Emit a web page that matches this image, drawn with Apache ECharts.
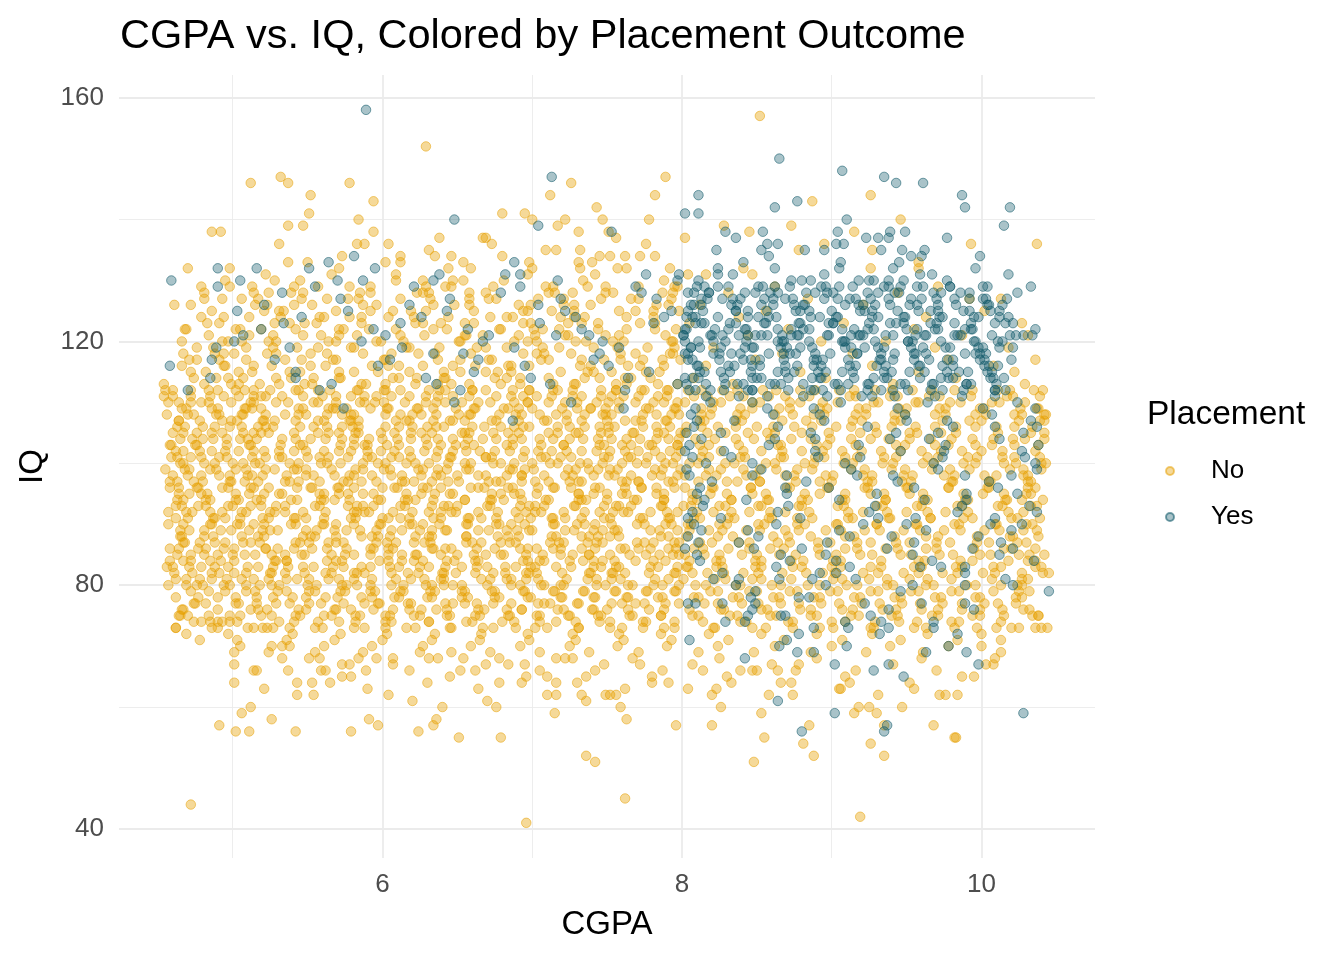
<!DOCTYPE html>
<html>
<head>
<meta charset="utf-8">
<script src="https://cdn.jsdelivr.net/npm/echarts@6/dist/echarts.min.js"></script>
<style>html,body{margin:0;padding:0;background:#fff}#chart{width:1344px;height:960px}</style>
</head>
<body>
<div id="chart"></div>
<script>
// Tick labels and grid lines
const xTickLabels = [6, 8, 10];
const yTickLabels = [40, 80, 120, 160];
const xGridMajor = [6, 8, 10];
const xGridMinor = [5, 7, 9];
const yGridMajor = [40, 80, 120, 160];
const yGridMinor = [60, 100, 140];
const seriesNames = ['No', 'Yes'];

// Each row: [IQ, CGPA, CGPA, ...]  -- Placement = No
const noUpper = [
[157, 8.52],
[152, 6.29],
[147, 5.32, 7.89],
[146, 5.12, 5.37, 5.78, 7.26],
[144, 5.52, 7.12, 7.82, 9.26],
[143, 5.94, 8.87],
[142, 7.43],
[141, 5.51, 6.80, 6.95],
[140, 5.84, 7.00, 7.22, 7.47, 7.78, 9.46],
[139, 5.37, 5.47, 7.17, 8.28, 8.73],
[138, 4.86, 4.92, 5.94, 7.31, 7.51, 8.45, 9.15],
[137, 6.38, 6.67, 6.69, 7.56, 8.02],
[136, 5.31, 5.83, 5.88, 6.04, 6.73, 7.76, 8.95, 9.93, 10.37],
[135, 6.31, 7.09, 7.16, 7.32, 8.78, 9.27],
[134, 5.73, 6.12, 6.35, 6.46, 6.80, 7.45, 7.52, 7.62, 7.72, 7.82],
[133, 5.37, 5.50, 6.02, 6.12, 6.54, 6.98, 7.31, 7.40, 9.58],
[132, 4.70, 4.98, 5.71, 6.44, 6.59, 7.00, 7.32, 7.57, 7.63, 7.92, 8.41, 9.26, 9.58],
[131, 5.22, 5.66, 6.09, 6.97, 7.42, 8.04, 8.16, 8.47],
[130, 4.95, 5.28, 5.45, 6.09, 6.27, 6.47, 6.54, 6.81, 7.34, 7.88],
[129, 4.98, 5.13, 5.57, 5.92, 6.29, 6.42, 6.74, 7.09, 7.37, 7.71, 7.95, 8.62, 9.71],
[128, 4.81, 5.24, 5.39, 5.85, 6.23, 6.31, 6.69, 7.15, 7.27, 7.54, 7.87, 8.31, 9.44],
[127, 4.93, 5.06, 5.63, 5.77, 6.12, 6.58, 6.76, 7.04, 7.46, 7.66, 7.93, 8.84, 9.92, 10.13],
[126, 4.72, 5.15, 5.41, 5.53, 5.96, 6.34, 6.48, 6.91, 7.21, 7.39, 7.83, 8.12, 9.21],
[125, 4.86, 5.21, 5.34, 5.69, 6.07, 6.19, 6.61, 6.97, 7.13, 7.58, 7.69, 7.98, 8.56, 10.02],
[124, 4.79, 4.94, 5.32, 5.61, 5.78, 6.04, 6.44, 6.72, 6.83, 7.28, 7.35, 7.81, 8.38, 9.63],
[123, 4.91, 5.28, 5.48, 5.86, 6.22, 6.39, 6.55, 6.99, 7.24, 7.44, 7.72, 8.05, 9.08, 10.27],
[122, 4.68, 5.02, 5.19, 5.74, 5.91, 6.09, 6.43, 6.79, 7.07, 7.18, 7.63, 7.96, 8.71, 9.55],
[121, 4.84, 5.11, 5.47, 5.59, 5.83, 6.28, 6.56, 6.67, 7.02, 7.22, 7.49, 7.89, 8.44, 9.87, 10.31],
[120, 4.66, 4.97, 5.06, 5.29, 5.64, 5.99, 6.14, 6.51, 6.88, 7.03, 7.36, 7.54, 7.94, 8.93, 9.36],
[119, 4.76, 5.09, 5.43, 5.57, 5.79, 6.16, 6.38, 6.63, 6.83, 7.18, 7.41, 7.77, 8.21, 9.69, 10.18],
[118, 4.88, 5.01, 5.23, 5.52, 5.87, 6.06, 6.24, 6.59, 6.94, 7.08, 7.26, 7.59, 7.92, 8.67, 9.14],
[117, 4.71, 4.91, 5.35, 5.46, 5.69, 6.01, 6.37, 6.52, 6.71, 7.06, 7.33, 7.48, 7.74, 7.99, 8.49, 9.78, 10.36],
[116, 4.66, 4.94, 5.14, 5.26, 5.62, 5.93, 6.11, 6.27, 6.62, 6.84, 6.98, 7.32, 7.64, 7.88, 8.16, 9.27, 10.08],
[115, 4.82, 5.04, 5.13, 5.45, 5.81, 5.97, 6.18, 6.52, 6.69, 6.86, 7.19, 7.37, 7.53, 7.85, 8.79, 9.58, 10.22],
[114, 4.74, 4.89, 5.07, 5.39, 5.54, 5.72, 6.07, 6.23, 6.41, 6.75, 6.92, 7.11, 7.45, 7.62, 7.79, 8.08, 8.96, 9.83],
[113, 4.54, 4.81, 4.99, 5.18, 5.31, 5.53, 5.89, 6.02, 6.22, 6.46, 6.58, 6.92, 7.14, 7.28, 7.56, 7.63, 7.97, 8.34, 9.41, 10.29],
[121, 5.27,5.71,6.12,6.55,6.91,7.24,7.58],
[116, 4.95,5.52,6.04,6.47,6.86,7.39,7.72],
[125, 5.31,5.92,6.29,6.94,7.28,7.81],
[119, 4.87,5.27,5.81,6.18,6.69,7.07,7.57,7.95],
[113, 5.04,5.48,5.86,6.37,6.79,7.29,7.84],
[128, 5.14,5.47,5.92,6.27,6.58,7.11,7.49,7.94],
[117, 4.76,5.09,5.67,6.02,6.73,7.11,7.59,7.87],
[123, 4.83,5.38,5.56,6.27,6.61,6.94,7.33,7.82],
[114, 4.97,5.29,5.71,6.11,6.42,6.83,7.35,7.66],
[127, 4.81,5.17,5.46,5.84,6.32,6.71,7.21,7.71],
[120, 4.93,5.24,5.69,5.96,6.52,6.97,7.29,7.61,7.93],
[115, 4.72,5.38,5.71,6.41,6.77,7.41,7.76],
[124, 5.11,5.58,5.86,6.21,6.87,7.19,7.63],
[129, 4.79,5.41,5.78,6.46,7.14,7.49,7.97],
[118, 4.67,4.94,5.29,5.63,6.35,7.03,7.69,7.94],
[126, 4.61,5.23,5.87,6.58,6.99,7.28,7.91],
[122, 4.69,5.05,5.42,5.71,6.34,6.78,7.01,7.44,7.82]
];

const noCore = [
[97, 4.58,4.74,4.99,5.08,5.38,5.44,5.77,5.86,6.13,6.21,6.44,6.71,6.79,7.02,7.25,7.31,7.63,7.71,7.94,8.11,8.37,8.52,8.92,9.24,9.47,9.81,10.05,10.33],
[84, 4.67,4.85,5.01,5.29,5.36,5.63,5.69,5.98,6.21,6.27,6.48,6.62,6.97,7.08,7.34,7.41,7.55,7.89,8.05,8.26,8.53,8.81,9.06,9.33,9.62,9.94,10.18,10.36],
[105, 4.60,4.76,4.93,5.19,5.24,5.57,5.71,5.82,6.08,6.33,6.53,6.58,6.91,7.17,7.29,7.46,7.68,7.84,7.99,8.17,8.44,8.62,8.98,9.19,9.52,9.73,10.11,10.42],
[91, 4.62,4.88,4.95,5.24,5.41,5.49,5.82,6.04,6.12,6.39,6.58,6.66,6.99,7.13,7.22,7.52,7.74,7.92,8.08,8.31,8.58,8.77,9.11,9.38,9.66,9.88,10.24],
[110, 4.57,4.72,4.84,5.12,5.29,5.54,5.69,5.88,6.01,6.29,6.36,6.64,6.88,6.97,7.22,7.43,7.51,7.81,7.97,8.21,8.47,8.72,8.94,9.28,9.56,9.79,10.07,10.29],
[88, 4.65,4.81,5.06,5.17,5.47,5.52,5.86,5.93,6.22,6.31,6.56,6.77,6.84,7.16,7.33,7.38,7.58,7.91,8.03,8.34,8.61,8.86,9.15,9.42,9.71,9.97,10.21,10.38],
[101, 4.59,4.79,4.91,5.13,5.31,5.58,5.64,5.93,6.06,6.19,6.45,6.69,6.73,7.09,7.19,7.48,7.66,7.77,7.96,8.13,8.39,8.66,8.89,9.09,9.35,9.64,9.91,10.14,10.39],
[82, 4.61,4.86,5.01,5.26,5.35,5.62,5.81,5.88,6.17,6.41,6.49,6.74,6.96,7.03,7.39,7.54,7.62,7.95,8.07,8.28,8.51,8.83,9.02,9.31,9.58,9.84,10.09,10.45],
[108, 4.56,4.74,4.91,5.07,5.35,5.49,5.73,5.81,6.12,6.26,6.51,6.58,6.89,7.05,7.23,7.47,7.53,7.83,7.98,8.19,8.42,8.74,8.95,9.23,9.49,9.76,10.03,10.27,10.43],
[94, 4.63,4.82,5.04,5.16,5.39,5.59,5.68,5.97,6.15,6.22,6.55,6.72,6.81,7.11,7.31,7.36,7.70,7.88,8.10,8.33,8.57,8.80,9.07,9.36,9.61,9.89,10.16,10.41],
[86, 4.58,4.77,4.94,5.22,5.30,5.53,5.76,5.92,6.07,6.34,6.46,6.63,6.92,7.03,7.19,7.42,7.59,7.79,7.96,8.14,8.45,8.68,8.91,9.17,9.44,9.70,9.95,10.20],
[112, 4.60,4.84,5.02,5.14,5.44,5.57,5.83,6.01,6.12,6.38,6.60,6.69,6.98,7.14,7.27,7.56,7.73,7.90,8.04,8.27,8.54,8.79,9.05,9.29,9.54,9.82,10.11,10.35],
[99, 4.55,4.71,4.89,5.09,5.28,5.41,5.66,5.87,6.05,6.24,6.43,6.56,6.85,7.01,7.24,7.44,7.52,7.82,7.99,8.18,8.41,8.63,8.87,9.13,9.40,9.67,9.92,10.19,10.40],
[80, 4.57,4.80,4.98,5.18,5.26,5.56,5.76,5.83,6.14,6.33,6.41,6.70,6.92,7.08,7.19,7.49,7.67,7.87,8.09,8.36,8.60,8.84,9.10,9.37,9.63,9.90,10.13,10.27],
[103, 4.59,4.75,4.96,5.11,5.32,5.45,5.72,5.90,6.03,6.30,6.49,6.61,6.87,7.06,7.21,7.45,7.60,7.80,7.97,8.12,8.38,8.64,8.90,9.16,9.43,9.69,9.96,10.22,10.38],
[90, 4.57,4.86,5.05,5.14,5.42,5.61,5.69,5.99,6.20,6.27,6.57,6.78,6.86,7.15,7.35,7.42,7.75,7.93,8.06,8.30,8.55,8.82,9.04,9.30,9.57,9.85,10.10,10.34],
[107, 4.64,4.78,4.99,5.20,5.28,5.57,5.78,5.84,6.16,6.34,6.45,6.73,6.91,7.10,7.23,7.50,7.69,7.89,8.15,8.40,8.67,8.93,9.20,9.46,9.74,10.00,10.25,10.42],
[85, 4.63,4.81,5.00,5.15,5.35,5.48,5.75,5.92,6.13,6.22,6.50,6.69,6.79,7.07,7.27,7.38,7.65,7.85,7.98,8.02,8.25,8.50,8.76,9.03,9.27,9.53,9.81,10.06,10.32],
[96, 4.58,4.76,4.93,5.12,5.24,5.52,5.70,5.81,6.08,6.27,6.39,6.64,6.84,7.04,7.14,7.42,7.62,7.73,7.95,8.20,8.46,8.70,8.97,9.22,9.50,9.78,10.04,10.36],
[111, 4.60,4.85,5.04,5.22,5.33,5.60,5.79,5.88,6.18,6.37,6.47,6.76,6.94,7.03,7.33,7.53,7.61,7.90,8.08,8.32,8.58,8.85,9.12,9.39,9.65,9.93,10.17,10.39],
[83, 4.60,4.79,4.97,5.17,5.27,5.54,5.74,5.86,6.11,6.31,6.42,6.70,6.89,6.99,7.26,7.46,7.56,7.84,8.04,8.23,8.49,8.74,9.00,9.26,9.55,9.83,10.08,10.40],
[100, 4.67,4.88,5.07,5.18,5.44,5.63,5.72,6.02,6.22,6.31,6.59,6.79,6.88,7.17,7.37,7.47,7.76,7.94,8.11,8.35,8.62,8.88,9.14,9.41,9.68,9.96,10.23,10.43],
[93, 4.66,4.82,5.00,5.19,5.29,5.58,5.77,5.87,6.15,6.33,6.44,6.72,6.92,7.02,7.29,7.48,7.58,7.87,8.06,8.29,8.53,8.80,9.08,9.34,9.60,9.87,10.14,10.33],
[109, 4.69,4.90,5.09,5.19,5.47,5.67,5.76,6.04,6.24,6.34,6.62,6.81,6.91,7.20,7.39,7.49,7.78,7.96,8.13,8.39,8.65,8.92,9.18,9.45,9.72,9.99,10.26,10.38],
[81, 4.62,4.78,4.96,5.14,5.24,5.51,5.71,5.81,6.09,6.28,6.39,6.66,6.86,6.96,7.23,7.43,7.53,7.82,8.01,8.22,8.47,8.73,9.01,9.25,9.52,9.80,10.07,10.31],
[104, 4.65,4.87,5.05,5.16,5.42,5.62,5.73,6.00,6.19,6.29,6.57,6.76,6.87,7.14,7.34,7.44,7.72,7.91,8.09,8.36,8.59,8.86,9.13,9.38,9.66,9.94,10.21,10.42],
[89, 4.65,4.81,4.99,5.20,5.30,5.56,5.76,5.85,6.13,6.33,6.43,6.71,6.90,7.00,7.28,7.47,7.57,7.85,8.05,8.27,8.52,8.78,9.06,9.32,9.59,9.86,10.12,10.37],
[98, 4.70,4.91,5.10,5.20,5.49,5.68,5.78,6.06,6.26,6.36,6.64,6.83,6.93,7.22,7.41,7.51,7.80,7.97,8.16,8.43,8.69,8.96,9.21,9.48,9.75,10.02,10.28],
[106, 4.63,4.80,4.98,5.17,5.27,5.54,5.73,5.84,6.11,6.30,6.41,6.68,6.88,6.98,7.25,7.45,7.55,7.83,8.03,8.24,8.50,8.75,9.03,9.29,9.56,9.83,10.10,10.34],
[87, 4.68,4.88,5.07,5.18,5.45,5.64,5.74,6.03,6.21,6.32,6.60,6.79,6.89,7.18,7.37,7.47,7.75,7.95,8.12,8.38,8.64,8.91,9.17,9.43,9.70,9.97,10.24],
[95, 4.64,4.83,5.02,5.21,5.31,5.58,5.77,5.87,6.16,6.35,6.45,6.73,6.92,7.03,7.31,7.50,7.60,7.88,8.07,8.30,8.56,8.82,9.09,9.35,9.61,9.88,10.15,10.30],
[102, 4.62,4.86,5.04,5.14,5.41,5.61,5.71,5.99,6.18,6.28,6.56,6.75,6.85,7.13,7.33,7.43,7.71,7.92,8.14,8.41,8.67,8.94,9.20,9.46,9.73,10.00,10.36],
[92, 4.69,4.85,5.06,5.25,5.35,5.62,5.81,5.91,6.20,6.39,6.49,6.77,6.96,7.06,7.35,7.54,7.64,7.90,8.10,8.33,8.59,8.85,9.11,9.37,9.64,9.91,10.18],
[76, 4.66,4.90,5.12,5.23,5.49,5.68,5.79,6.07,6.26,6.36,6.64,6.83,6.93,7.21,7.40,7.50,7.78,8.05,8.26,8.53,8.79,9.07,9.34,9.60,9.87,10.14,10.32],
[79, 4.72,4.95,5.15,5.36,5.55,5.75,5.95,6.14,6.35,6.55,6.75,6.95,7.15,7.34,7.56,7.77,7.95,8.19,8.45,8.72,8.99,9.26,9.53,9.80,10.08,10.25,10.32],
[75, 4.64,4.70,4.98,5.19,5.42,5.61,5.82,6.02,6.21,6.43,6.62,6.84,7.03,7.24,7.44,7.65,7.86,8.11,8.37,8.63,8.90,9.18,9.44,9.71,9.99,10.15,10.34,10.38],
[78, 4.77,5.02,5.27,5.49,5.70,5.93,6.11,6.33,6.57,6.78,6.99,7.20,7.41,7.63,7.84,8.08,8.34,8.61,8.88,9.15,9.42,9.69,9.96,10.23],
[77, 4.75,5.04,5.29,5.51,5.74,5.97,6.19,6.42,6.63,6.86,7.08,7.30,7.53,7.75,7.98,8.24,8.51,8.78,9.05,9.32,9.59,9.87,10.11],
[74, 4.79,4.85,4.90,4.93,5.03,5.31,5.57,5.82,6.06,6.31,6.56,6.80,7.05,7.29,7.52,7.76,8.14,8.43,8.71,9.00,9.29,9.57,9.85,10.13],
[73, 4.62,4.86,5.10,5.20,5.23,5.27,5.55,5.88,6.16,6.46,6.74,7.02,7.31,7.60,7.88,8.22,8.56,8.92,9.26,9.63,9.97,10.20,10.25,10.40,10.44],
[72, 4.69,4.97,5.40,5.72,6.03,6.35,6.66,6.97,7.27,7.58,7.86,8.18,8.53,8.90,9.27,9.64,10.00],
[71, 4.78,5.03,5.36,5.68,6.00,6.33,6.65,6.98,7.29,7.61,7.93,8.31,8.68,9.07,9.46,9.84,10.13],
[70, 5.05,5.26,5.33,5.38,5.61,5.93,6.27,6.59,6.92,7.25,7.57,7.90,8.24,8.62,9.00,9.39,9.78,10.00],
[69, 5.01,5.24,5.55,5.87,6.25,6.46,6.72,7.05,7.38,7.71,8.11,8.48,8.86,9.23,9.61,10.13]
];

const noCoreExtra = [
[88, 4.66,4.87,5.21,5.55,5.69,5.97,6.05,6.33,6.56,6.91,7.13,7.44,7.52,7.86,8.24,8.71,9.09,9.63,10.19],
[103, 4.58,4.76,5.12,5.47,5.81,5.88,6.11,6.39,6.55,6.83,7.21,7.48,7.66,7.78,7.97,8.18,8.66,8.97,9.49,9.78,10.07],
[81, 4.69,4.86,5.06,5.36,5.43,5.64,5.93,6.19,6.41,6.72,6.83,7.04,7.37,7.59,7.91,8.29,8.53,9.07,9.37,9.64,10.27],
[95, 4.71,4.79,5.11,5.33,5.61,5.71,5.94,6.26,6.47,6.79,6.88,7.31,7.41,7.63,7.83,8.19,8.47,8.92,9.26,9.52,10.01,10.33],
[107, 4.64,4.93,5.03,5.21,5.42,5.61,5.79,6.09,6.18,6.47,6.55,6.76,7.08,7.33,7.62,7.73,7.90,8.12,8.36,8.83,9.14,9.42,9.92,10.39],
[84, 4.58,4.72,4.92,5.28,5.36,5.73,6.04,6.13,6.43,6.64,6.94,7.05,7.25,7.47,7.69,7.81,8.23,8.49,8.73,9.01,9.58,9.86,10.31],
[99, 4.68,4.85,5.02,5.22,5.43,5.49,5.82,6.01,6.27,6.37,6.58,6.87,6.95,7.29,7.38,7.57,7.87,8.26,8.52,8.77,9.22,9.49,9.79,10.28],
[111, 4.54,4.72,4.94,5.14,5.19,5.47,5.69,5.96,6.06,6.29,6.58,6.86,7.13,7.27,7.46,7.71,7.84,8.17,8.41,8.69,9.16,9.44,9.72,10.21],
[86, 4.64,4.82,5.01,5.22,5.41,5.63,5.94,6.04,6.33,6.42,6.75,6.97,7.14,7.33,7.62,7.71,7.91,8.08,8.31,8.59,9.09,9.36,9.63,10.15,10.36],
[92, 4.57,4.73,4.93,5.09,5.28,5.47,5.83,5.88,6.07,6.31,6.46,6.64,6.89,7.02,7.21,7.45,7.61,7.79,7.97,8.21,8.45,8.69,9.21,9.50,9.76,10.28],
[105, 4.67,4.86,5.07,5.14,5.41,5.64,5.84,5.99,6.19,6.26,6.55,6.74,6.84,7.11,7.31,7.51,7.67,7.88,8.02,8.29,8.57,8.80,9.30,9.57,9.83,10.33],
[80, 4.69,4.76,4.94,5.09,5.31,5.50,5.73,5.92,6.06,6.29,6.47,6.53,6.86,7.06,7.21,7.43,7.64,7.81,7.98,8.16,8.39,8.66,8.92,9.17,9.41,9.68,9.96,10.24],
[97, 4.63,4.80,4.98,5.17,5.35,5.58,5.74,5.96,6.15,6.33,6.51,6.76,6.93,7.11,7.33,7.60,7.71,7.91,8.30,8.52,8.76,9.00,9.27,9.53,9.80,10.06,10.31],
[109, 4.66,4.86,5.08,5.13,5.44,5.64,5.69,5.92,6.03,6.23,6.49,6.61,6.84,7.00,7.30,7.39,7.58,7.76,7.95,8.20,8.47,8.72,8.97,9.23,9.50,9.76,10.02,10.37],
[90, 4.67,4.85,5.03,5.21,5.39,5.60,5.81,5.98,6.18,6.38,6.56,6.76,6.95,7.14,7.30,7.53,7.70,7.89,8.04,8.25,8.51,8.77,9.03,9.30,9.56,9.82,10.09,10.30],
[101, 4.63,4.72,4.96,5.22,5.33,5.50,5.77,5.90,6.11,6.36,6.46,6.69,6.94,7.06,7.26,7.51,7.64,7.86,8.18,8.42,8.68,8.95,9.17,9.43,9.71,9.97,10.22],
[83, 4.56,4.71,4.88,5.10,5.37,5.47,5.67,5.92,6.05,6.25,6.53,6.63,6.82,7.02,7.16,7.41,7.58,7.79,7.97,8.03,8.27,8.53,8.80,9.06,9.33,9.60,9.87,10.13,10.36],
[112, 4.55,4.72,4.90,5.08,5.25,5.42,5.65,5.84,6.02,6.31,6.42,6.60,6.87,6.98,7.17,7.46,7.56,7.75,7.91,8.13,8.37,8.63,8.89,9.15,9.40,9.67,9.94,10.19,10.41],
[94, 4.67,4.85,5.02,5.19,5.43,5.61,5.78,5.99,6.17,6.34,6.55,6.73,6.93,7.09,7.33,7.50,7.68,7.88,8.07,8.33,8.58,8.84,9.09,9.36,9.64,9.91,10.17,10.27],
[87, 4.67,4.78,4.95,5.12,5.42,5.51,5.69,5.96,6.09,6.28,6.56,6.66,6.85,7.12,7.21,7.43,7.70,7.81,7.98,8.20,8.45,8.72,8.99,9.26,9.52,9.79,10.05,10.30],
[106, 4.68,4.88,5.06,5.22,5.45,5.63,5.80,6.02,6.20,6.36,6.60,6.79,6.94,7.17,7.35,7.51,7.74,7.92,8.13,8.36,8.61,8.87,9.13,9.40,9.69,9.96,10.22],
[98, 4.60,4.79,4.98,5.13,5.36,5.54,5.81,5.93,6.13,6.39,6.50,6.69,6.93,7.08,7.27,7.55,7.66,7.86,8.02,8.23,8.49,8.75,9.01,9.27,9.54,9.82,10.10,10.31],
[82, 4.73,4.91,5.09,5.25,5.48,5.66,5.83,6.06,6.24,6.40,6.62,6.82,6.98,7.20,7.38,7.53,7.78,7.96,8.17,8.41,8.67,8.94,9.21,9.48,9.74,10.01,10.27,10.41],
[110, 4.64,4.79,4.99,5.14,5.37,5.57,5.85,5.95,6.15,6.42,6.53,6.72,6.97,7.11,7.30,7.58,7.69,7.88,8.02,8.26,8.52,8.79,9.04,9.31,9.58,9.86,10.12],
[91, 4.70,4.87,5.05,5.20,5.42,5.61,5.79,6.00,6.18,6.34,6.57,6.76,6.91,7.14,7.33,7.48,7.72,7.91,8.12,8.35,8.60,8.87,9.14,9.39,9.66,9.94,10.20,10.39],
[104, 4.73,4.80,4.96,5.10,5.33,5.52,5.81,5.91,6.10,6.37,6.47,6.67,6.93,7.05,7.25,7.53,7.63,7.83,7.98,8.22,8.48,8.73,8.99,9.26,9.52,9.80,10.08,10.29],
[85, 4.72,4.90,5.08,5.26,5.46,5.66,5.81,6.04,6.23,6.39,6.61,6.81,6.96,7.19,7.38,7.52,7.76,7.94,8.15,8.40,8.65,8.92,9.19,9.46,9.72,9.99,10.25,10.42],
[100, 4.65,4.81,5.00,5.15,5.38,5.59,5.87,5.97,6.16,6.44,6.55,6.74,7.00,7.12,7.32,7.60,7.70,7.89,8.05,8.29,8.56,8.82,9.08,9.34,9.61,9.88,10.15,10.40],
[108, 4.70,4.89,5.06,5.22,5.44,5.63,5.79,6.02,6.20,6.36,6.59,6.78,6.93,7.16,7.35,7.49,7.74,7.93,8.13,8.37,8.62,8.88,9.16,9.42,9.69,9.96,10.22,10.42],
[93, 4.62,4.77,4.97,5.12,5.35,5.55,5.83,5.94,6.12,6.41,6.50,6.70,6.98,7.08,7.28,7.56,7.66,7.86,8.01,8.25,8.51,8.78,9.04,9.30,9.57,9.84,10.11,10.37],
[89, 4.71,4.92,5.11,5.25,5.49,5.68,5.96,6.06,6.25,6.42,6.64,6.83,6.98,7.22,7.41,7.55,7.79,7.97,8.18,8.43,8.69,8.96,9.22,9.48,9.75,10.02,10.28],
[102, 4.67,4.78,4.95,5.21,5.31,5.49,5.79,5.90,6.08,6.37,6.47,6.65,6.95,7.04,7.23,7.52,7.62,7.82,7.99,8.26,8.53,8.80,9.07,9.33,9.60,9.87,10.14],
[96, 4.64,4.77,4.97,5.14,5.43,5.53,5.71,6.00,6.10,6.30,6.59,6.68,6.87,7.15,7.26,7.45,7.73,7.83,8.02,8.21,8.46,8.72,8.98,9.24,9.51,9.78,10.05,10.31],
[77, 4.74,4.82,5.02,5.16,5.38,5.59,5.88,5.98,6.17,6.47,6.55,6.74,7.04,7.12,7.31,7.60,7.69,7.89,8.15,8.40,8.66,8.93,9.20,9.47,9.74,10.02,10.23],
[75, 4.65,4.84,5.05,5.26,5.45,5.66,5.85,6.05,6.25,6.45,6.65,6.85,7.05,7.25,7.46,7.67,7.86,8.07,8.32,8.59,8.86,9.13,9.40,9.67,9.94,10.38],
[79, 4.84,5.09,5.30,5.51,5.72,5.92,6.12,6.32,6.53,6.73,6.94,7.14,7.35,7.55,7.76,7.96,8.24,8.50,8.77,9.04,9.31,9.58,9.85],
[73, 4.62,4.90,5.14,5.38,5.60,5.81,6.02,6.22,6.45,6.67,6.89,7.10,7.31,7.52,7.74,7.95,8.21,8.47,8.74,9.01,9.28,9.55,9.82,10.10,10.36],
[78, 4.62,4.90,5.16,5.40,5.62,5.86,6.08,6.30,6.53,6.75,6.97,7.19,7.42,7.64,7.87,8.11,8.38,8.65,8.92,9.19,9.46,9.73,9.99,10.27],
[76, 4.67,5.17,5.44,5.69,5.94,6.18,6.43,6.68,6.93,7.17,7.41,7.64,7.88,8.28,8.57,8.86,9.14,9.43,9.71,9.99,10.28],
[74, 4.74,4.98,5.41,5.71,6.02,6.31,6.60,6.88,7.16,7.45,7.74,7.95,8.39,8.74,9.09,9.45,9.80]
];

const noLower = [
[68, 5.33,5.51,5.58,5.84,5.96,6.07,6.31,6.37,6.54,6.78,7.16,7.22,7.27,7.67,8.25,8.90,9.60,10.09],
[67, 5.01,5.73,5.78,6.07,6.69,6.84,6.95,7.48,7.72,8.07,8.60,8.78,9.41,10.03,10.08],
[66, 5.14,5.16,5.37,5.59,5.62,5.89,6.18,6.52,6.62,7.05,7.42,7.87,8.14,8.39,8.47,8.50,8.64,8.76,9.16,9.70],
[65, 5.73,5.79,6.45,6.96,7.10,7.36,7.80,8.30,9.09,9.87,9.95],
[64, 5.01,5.43,5.53,5.65,6.30,6.78,6.93,7.16,7.30,7.80,7.91,8.33,8.66,8.73,9.12,9.52],
[63, 5.21,5.90,6.64,7.62,8.04,8.23,9.05,9.06,9.55],
[62, 5.43,5.54,6.04,7.10,7.16,7.33,7.49,7.52,7.56,8.20,8.58,8.74,9.31,9.72,9.76,9.84],
[61, 6.20,6.70,7.36],
[60, 5.12,6.40,6.76,7.59,8.26,9.18,9.25,9.47],
[59, 5.06,7.15,8.53,9.15,9.30],
[58, 5.26,5.91,6.36,7.63],
[57, 4.91,5.97,6.34,7.96,8.20,8.85,9.35,9.68],
[56, 5.02,5.11,5.42,5.79,6.24],
[55, 6.51,6.79,8.55,9.82,9.83],
[54, 8.81,9.26],
[52, 7.36,8.88,9.35],
[51, 7.42,8.48],
[45, 7.62],
[44, 4.72],
[42, 9.19],
[41, 6.96]
];

// Each row: [IQ, CGPA, CGPA, ...]  -- Placement = Yes
const yesUpper = [
[158, 5.89],
[150, 8.65],
[148, 9.07],
[147, 7.13, 9.35],
[146, 9.43, 9.61],
[144, 8.11, 9.87],
[143, 8.77],
[142, 8.62, 9.89, 10.19],
[141, 8.02, 8.11],
[140, 6.48, 9.10],
[139, 7.04, 10.15],
[138, 7.53, 8.29, 8.54, 9.04, 9.39, 9.49],
[137, 8.36, 9.23, 9.31, 9.38, 9.77],
[136, 8.57, 8.64, 9.03, 9.08],
[135, 8.23, 8.53, 8.82, 8.95, 9.33, 9.47, 9.62],
[134, 5.81, 8.58, 9.53, 9.60, 9.99],
[133, 5.64, 6.88, 8.41, 9.06, 9.45],
[132, 4.90, 5.16, 5.51, 5.95, 8.24, 8.62, 9.05, 9.41, 9.96],
[131, 6.38, 6.82, 6.92, 7.76, 7.98, 8.24, 8.34, 8.95, 9.59, 9.67, 10.18],
[130, 4.59, 5.05, 5.70, 5.87, 6.34, 7.17, 7.97, 8.11, 8.73, 8.80, 8.86, 9.18, 9.25, 9.28, 9.38, 9.48, 9.77]
];

const yesMiddle = [
[121, 6.02,7.16,8.27,8.53,8.77,8.98,9.21,9.56,9.84,10.19],
[115, 5.42,6.61,7.78,8.15,8.46,8.69,8.91,9.14,9.35,9.77,9.85,10.07],
[126, 5.21,6.18,7.04,8.06,8.33,8.61,8.82,9.09,9.29,9.52,9.71,10.04],
[118, 6.34,6.54,7.45,8.02,8.21,8.39,8.58,8.76,8.99,9.17,9.42,9.63,9.89,9.96],
[112, 4.70,5.58,6.52,7.62,8.09,8.28,8.47,8.71,8.88,9.06,9.33,9.51,9.74,10.09,10.16],
[128, 5.33,6.79,7.73,8.04,8.18,8.42,8.64,8.83,9.01,9.24,9.45,9.68,9.92,10.24],
[116, 4.58,5.97,6.95,7.51,8.11,8.31,8.52,8.69,8.93,9.12,9.36,9.58,9.81,10.05],
[124, 5.46,6.26,7.29,7.88,8.07,8.24,8.44,8.63,8.86,9.04,9.27,9.49,9.72,9.95,10.12],
[121, 5.07,6.71,7.38,8.01,8.19,8.38,8.57,8.78,8.97,9.19,9.41,9.62,9.86,10.23,10.28,10.34],
[127, 5.72,6.45,7.19,7.83,8.13,8.34,8.55,8.74,8.95,9.16,9.38,9.60,9.82,10.03,10.17],
[119, 4.89,5.38,6.13,6.88,7.58,8.06,8.26,8.47,8.66,8.87,9.09,9.31,9.53,9.76,9.98,10.21],
[113, 5.66,6.36,7.12,7.97,8.16,8.37,8.59,8.81,9.02,9.24,9.46,9.67,9.90,10.10],
[122, 5.19,5.94,6.57,7.33,8.03,8.22,8.43,8.64,8.85,9.07,9.28,9.50,9.71,9.94,10.36],
[129, 4.90,5.55,6.21,6.92,7.69,8.10,8.31,8.51,8.72,8.93,9.14,9.35,9.57,9.79,10.01,10.33],
[117, 4.86,5.28,6.05,6.64,7.41,8.04,8.25,8.46,8.68,8.90,9.11,9.32,9.55,9.77,9.99,10.20],
[125, 5.03,5.77,6.43,7.22,7.93,8.14,8.36,8.57,8.79,9.00,9.22,9.44,9.66,9.88,10.12],
[114, 4.85,5.42,6.29,6.99,7.64,8.07,8.28,8.50,8.71,8.92,9.15,9.37,9.59,9.81,10.06],
[120, 5.01,5.86,6.67,7.47,8.02,8.21,8.43,8.64,8.85,9.07,9.29,9.51,9.73,9.95,10.14],
[123, 5.34,6.12,7.05,7.81,8.09,8.32,8.56,8.78,9.01,9.25,9.48,9.70,9.93,10.16],
[117, 8.41,8.88,9.33,9.65,10.02],
[124, 8.03,8.58,9.03,9.48,9.98],
[112, 8.19,8.47,8.94,9.41,9.88],
[120, 8.11,8.67,9.08,9.54,10.11],
[128, 8.18,8.59,8.97,9.42,9.86],
[114, 8.11,8.53,8.93,9.35,9.78,10.08],
[122, 8.02,8.42,8.81,9.24,9.69,9.93],
[129, 8.15,8.54,8.96,9.38,9.61,10.04],
[116, 8.10,8.47,8.88,9.30,9.74,10.11],
[125, 8.04,8.44,8.85,9.27,9.71,9.92],
[111, 8.16,8.57,8.97,9.20,9.42,9.87,10.09],
[119, 8.06,8.48,8.70,9.13,9.35,9.79,10.01],
[126, 8.13,8.53,8.75,9.18,9.39,9.83,10.05],
[113, 8.03,8.41,8.62,9.04,9.25,9.68,9.90],
[123, 8.15,8.36,8.79,9.01,9.43,9.66,10.09],
[118, 8.04,8.25,8.68,8.89,9.33,9.55,9.99],
[127, 8.17,8.39,8.61,9.04,9.26,9.70,9.92],
[115, 8.12,8.32,8.75,8.96,9.40,9.62,10.04],
[121, 8.20,8.44,8.67,9.13,9.36,9.82],
[126, 8.08,8.37,8.81,9.21,9.57,10.14],
[113, 8.29,8.66,9.11,9.49,9.93],
[121, 8.01,8.49,8.73,9.18,9.63,10.07],
[129, 8.24,8.62,9.05,9.46,9.79],
[116, 8.35,8.77,9.16,9.59,10.02],
[124, 8.09,8.51,8.92,9.31,9.74,10.18],
[111, 8.38,8.81,9.27,9.69],
[119, 8.12,8.42,8.79,9.22,9.61,10.12],
[127, 8.27,8.69,9.12,9.53,10.01],
[114, 8.02,8.47,8.87,9.28,9.73,10.15],
[122, 8.31,8.73,9.15,9.57,9.89],
[117, 8.07,8.52,8.94,9.41,9.81],
[125, 8.36,8.76,9.19,9.58,10.06],
[112, 8.05,8.44,8.86,9.24,9.66,10.09],
[120, 8.29,8.68,9.09,9.51,9.96],
[128, 8.08,8.49,8.89,9.31,9.73],
[115, 8.26,8.64,9.07,9.52,9.91],
[123, 8.13,8.55,8.98,9.39,9.82,10.21],
[118, 8.33,8.72,9.17,9.56,10.03]
];

const yesLower = [
[110, 6.48,7.26],
[109, 5.74,7.61],
[107, 6.87],
[98, 8.05,8.47,8.70,9.17,9.41,9.89,10.20],
[104, 8.13,8.62,8.89,9.39,9.65,10.12],
[91, 8.04,8.26,8.79,9.31,9.56,10.09],
[107, 8.10,8.35,8.95,9.50,9.77,10.33],
[86, 8.02,8.48,8.80,9.37,9.94,10.21],
[101, 8.07,8.33,8.91,9.19,9.74,10.29],
[94, 8.15,8.43,9.05,9.62,9.90],
[109, 8.09,8.57,8.88,9.44,10.01,10.36],
[88, 8.04,8.51,9.12,9.40,9.98],
[96, 8.12,8.69,8.98,9.55,10.11],
[105, 8.03,8.26,8.86,9.43,9.71,10.28],
[90, 8.08,8.63,9.21,9.50,10.06,10.27],
[110, 8.19,8.47,9.06,9.64,10.24],
[85, 8.10,8.66,8.96,9.54,10.12],
[102, 8.02,8.28,8.89,9.46,9.75,10.27],
[93, 8.14,8.71,9.29,9.87,10.32],
[108, 8.06,8.61,8.92,9.49,10.07],
[87, 8.11,8.38,8.97,9.55,10.13],
[99, 8.03,8.53,9.13,9.71,10.37],
[106, 8.08,8.64,9.24,9.81,10.09,10.37],
[89, 8.13,8.44,9.05,9.63,10.20],
[103, 8.05,8.58,9.18,9.76,10.38],
[95, 8.10,8.70,9.30,9.90,10.24],
[100, 8.16,8.47,9.09,9.68,10.36],
[92, 8.07,8.64,9.25,9.84,10.37],
[97, 8.20,8.83,9.44,10.05],
[84, 8.12,8.72,9.03,9.67,10.35],
[83, 8.63,9.12,9.59,9.73,9.89],
[82, 8.27,8.92,9.03,9.89],
[81, 8.21,8.38,8.65,8.87,9.16,10.16],
[80, 8.36,8.96,9.54,9.89,10.21],
[79, 8.49,9.46,10.45],
[78, 8.46,8.78,8.85],
[77, 8.04,8.09,8.27,8.49,9.22,9.60,9.89],
[76, 8.47,9.38,9.95],
[75, 8.44,8.66,8.69,9.26],
[74, 8.29,8.42,9.09,9.33,9.68],
[73, 8.88,9.11,9.38,9.68],
[72, 8.78,9.32,9.84],
[71, 8.05,8.70],
[70, 8.65,9.10,9.78],
[69, 8.77,8.88,9.63,9.90],
[68, 8.42],
[67, 9.02,9.38,9.98],
[66, 9.28],
[65, 9.48],
[61, 8.64],
[59, 9.02,10.28],
[57, 9.37],
[56, 8.80,9.35]
];

function expandRows(rows) {
  const pts = [];
  rows.forEach(r => { for (let i = 1; i < r.length; i++) pts.push([r[i], r[0]]); });
  return pts;
}
const noData = [].concat(expandRows(noUpper), expandRows(noCore), expandRows(noCoreExtra), expandRows(noLower));
const yesData = [].concat(expandRows(yesUpper), expandRows(yesMiddle), expandRows(yesLower));

const FONT = 'Liberation Sans, Arial, Helvetica, sans-serif';
const GRID_COLOR = '#EBEBEB';
const gridLines = [].concat(
  xGridMinor.map(v => ({ xAxis: v, lineStyle: { color: GRID_COLOR, width: 0.9, type: 'solid' } })),
  yGridMinor.map(v => ({ yAxis: v, lineStyle: { color: GRID_COLOR, width: 0.9, type: 'solid' } })),
  xGridMajor.map(v => ({ xAxis: v, lineStyle: { color: GRID_COLOR, width: 1.8, type: 'solid' } })),
  yGridMajor.map(v => ({ yAxis: v, lineStyle: { color: GRID_COLOR, width: 1.8, type: 'solid' } }))
);

const chart = echarts.init(document.getElementById('chart'), null, { renderer: 'canvas' });
chart.setOption({
  animation: false,
  backgroundColor: '#ffffff',
  textStyle: { fontFamily: FONT },
  title: [
    { text: 'CGPA vs. IQ, Colored by Placement Outcome', left: 115, top: 11,
      textStyle: { fontFamily: FONT, fontSize: 41.5, fontWeight: 'normal', color: '#000' } },
    { text: 'Placement', left: 1142, top: 393,
      textStyle: { fontFamily: FONT, fontSize: 33.5, fontWeight: 'normal', color: '#000' } }
  ],
  legend: {
    data: seriesNames, orient: 'vertical', left: 1160, top: 453,
    icon: 'circle', itemWidth: 72, itemHeight: 8, itemGap: 20,
    textStyle: { fontFamily: FONT, fontSize: 26, color: '#000' },
    selectedMode: false
  },
  grid: { left: 119, right: 249, top: 75, bottom: 102, containLabel: false },
  xAxis: {
    type: 'value', min: 4.2404, max: 10.758, splitNumber: 6,
    name: 'CGPA', nameLocation: 'middle', nameGap: 50,
    nameTextStyle: { fontFamily: FONT, fontSize: 33, color: '#000' },
    axisLine: { show: false }, axisTick: { show: false }, splitLine: { show: false },
    axisLabel: {
      margin: 14, fontFamily: FONT, fontSize: 26, color: '#4D4D4D',
      showMinLabel: false, showMaxLabel: false,
      formatter: v => { const r = Math.round(v * 1000) / 1000; return xTickLabels.includes(r) ? String(r) : ''; }
    }
  },
  yAxis: {
    type: 'value', min: 35.23, max: 163.72, splitNumber: 6,
    name: 'IQ', nameLocation: 'middle', nameGap: 70, nameRotate: 90,
    nameTextStyle: { fontFamily: FONT, fontSize: 33, color: '#000' },
    axisLine: { show: false }, axisTick: { show: false }, splitLine: { show: false },
    axisLabel: {
      margin: 15, fontFamily: FONT, fontSize: 26, color: '#4D4D4D',
      showMinLabel: false, showMaxLabel: false,
      formatter: v => { const r = Math.round(v * 1000) / 1000; return yTickLabels.includes(r) ? String(r) : ''; }
    }
  },
  series: [
    {
      name: 'No', type: 'scatter', data: noData, symbol: 'circle', symbolSize: 9.5,
      z: 2, progressive: 0, large: false,
      itemStyle: { color: 'rgba(230,159,0,0.5)', borderColor: 'rgba(230,159,0,0.65)', borderWidth: 1 },
      emphasis: { disabled: true },
      markLine: { silent: true, symbol: 'none', z: 0, animation: false,
        label: { show: false }, emphasis: { disabled: true }, data: gridLines }
    },
    {
      name: 'Yes', type: 'scatter', data: yesData, symbol: 'circle', symbolSize: 9.5,
      z: 3, progressive: 0, large: false,
      itemStyle: { color: 'rgba(16,89,106,0.45)', borderColor: 'rgba(16,89,106,0.7)', borderWidth: 1 },
      emphasis: { disabled: true }
    }
  ]
});
</script>
</body>
</html>
